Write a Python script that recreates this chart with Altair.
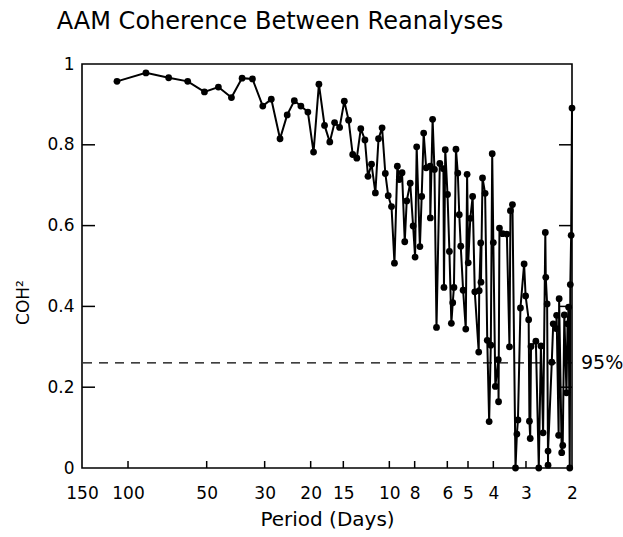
import altair as alt
import pandas as pd

# Period (days) and squared coherence
period = [110.2, 85.4, 69.9, 59.1, 51.0, 45.1, 40.2, 36.6, 33.4, 30.5,
          28.3, 26.2, 24.6, 23.1, 21.8, 20.5, 19.5, 18.6, 17.7, 16.9,
          16.2, 15.5, 14.87, 14.32, 13.81, 13.32, 12.86, 12.40, 12.07, 11.70,
          11.31, 11.0, 10.66, 10.36, 10.10, 9.81, 9.56, 9.32, 9.16, 8.94,
          8.73, 8.58, 8.32, 8.11, 7.97, 7.86, 7.64, 7.52, 7.39, 7.23,
          6.98, 6.97, 6.83, 6.72, 6.60, 6.41, 6.21, 6.18, 6.11, 5.99,
          5.89, 5.79, 5.72, 5.66, 5.56, 5.47, 5.40, 5.33, 5.22, 5.10,
          5.04, 4.99, 4.90, 4.80, 4.71, 4.55, 4.53, 4.47, 4.46, 4.40,
          4.30, 4.22, 4.15, 4.09, 4.04, 4.00, 3.93, 3.83, 3.82, 3.79,
          3.69, 3.55, 3.47, 3.44, 3.38, 3.29, 3.25, 3.22, 3.15, 3.05,
          3.01, 2.93, 2.91, 2.89, 2.87, 2.75, 2.68, 2.63, 2.58, 2.53,
          2.52, 2.49, 2.47, 2.47, 2.39, 2.36, 2.30, 2.29, 2.25, 2.24,
          2.19, 2.17, 2.14, 2.10, 2.08, 2.06, 2.04, 2.03, 2.015, 2.0]

coh = [0.957, 0.978, 0.966, 0.957, 0.931, 0.943, 0.917, 0.965, 0.963, 0.896,
       0.913, 0.815, 0.874, 0.909, 0.896, 0.881, 0.782, 0.950, 0.848, 0.807,
       0.855, 0.843, 0.908, 0.861, 0.776, 0.767, 0.840, 0.812, 0.722, 0.752,
       0.681, 0.815, 0.842, 0.729, 0.674, 0.647, 0.507, 0.747, 0.714, 0.731,
       0.560, 0.661, 0.705, 0.599, 0.522, 0.795, 0.548, 0.672, 0.829, 0.743,
       0.747, 0.619, 0.863, 0.739, 0.348, 0.754, 0.741, 0.447, 0.788, 0.677,
       0.536, 0.358, 0.409, 0.447, 0.789, 0.730, 0.627, 0.549, 0.440, 0.344,
       0.727, 0.508, 0.618, 0.672, 0.436, 0.287, 0.439, 0.557, 0.460, 0.718,
       0.680, 0.316, 0.115, 0.304, 0.778, 0.558, 0.202, 0.268, 0.164, 0.594,
       0.580, 0.579, 0.300, 0.637, 0.652, 0.000, 0.084, 0.119, 0.396, 0.505,
       0.426, 0.367, 0.116, 0.073, 0.301, 0.314, 0.000, 0.302, 0.087, 0.583,
       0.472, 0.406, 0.007, 0.042, 0.262, 0.357, 0.345, 0.378, 0.081, 0.419,
       0.038, 0.056, 0.379, 0.186, 0.357, 0.398, 0.000, 0.454, 0.576, 0.891]

x_tick_values = [150, 100, 50, 30, 20, 15, 10, 8, 6, 5, 4, 3, 2]
x_inner_ticks = [100, 50, 30, 20, 15, 10, 8, 6, 5, 4, 3]
y_tick_values = [0, 0.2, 0.4, 0.6, 0.8, 1]
y_inner_ticks = [0.2, 0.4, 0.6, 0.8]
sig95 = 0.26

W, H = 490, 404
FONT = "DejaVu Sans"

df = pd.DataFrame({"period": period, "coh": coh, "idx": list(range(len(period)))})
ytk = pd.DataFrame({"coh": y_inner_ticks})
xtk = pd.DataFrame({"period": x_inner_ticks})
one = pd.DataFrame({"label": ["95%"]})

xscale = alt.Scale(type="log", domain=[2, 150], reverse=True, nice=False)
yscale = alt.Scale(domain=[0, 1], nice=False)

xaxis = alt.Axis(values=x_tick_values, title="Period (Days)", labelOverlap=False,
                 labelFlush=False, labelExpr="format(datum.value, 'd')",
                 labelFontSize=17, titleFontSize=20, labelPadding=17, titlePadding=8,
                 ticks=False, tickSize=0, domain=False, grid=False,
                 labelFont=FONT, titleFont=FONT, titleFontWeight="normal",
                 labelColor="black", titleColor="black")
yaxis = alt.Axis(values=y_tick_values, title="COH²",
                 labelExpr="datum.value == 0 ? '0' : datum.value == 1 ? '1' : format(datum.value, '.1f')",
                 labelFontSize=17, titleFontSize=17, labelPadding=8,
                 titleX=-59, titleY=238, titleBaseline="middle",
                 ticks=False, tickSize=0, domain=False, grid=False,
                 labelFont=FONT, titleFont=FONT, titleFontWeight="normal",
                 labelColor="black", titleColor="black")

line = alt.Chart(df).mark_line(color="black", strokeWidth=2).encode(
    x=alt.X("period:Q", scale=xscale, axis=xaxis),
    y=alt.Y("coh:Q", scale=yscale, axis=yaxis),
    order="idx:Q",
)
pts = alt.Chart(df).mark_circle(color="black", size=46, opacity=1).encode(
    x=alt.X("period:Q", scale=xscale),
    y=alt.Y("coh:Q", scale=yscale),
)

sig_line = alt.Chart(one).mark_rule(color="black", strokeWidth=1.2, strokeDash=[9, 7]).encode(
    y=alt.datum(sig95)
)
sig_text = alt.Chart(one).mark_text(align="left", baseline="middle",
                                    dx=9, fontSize=19, font=FONT, color="black").encode(
    x=alt.datum(2), y=alt.datum(sig95), text="label:N"
)

left_ticks = alt.Chart(ytk).mark_rule(color="black", strokeWidth=1.5).encode(
    y=alt.Y("coh:Q", scale=yscale), x=alt.value(0), x2=alt.value(13))
right_ticks = alt.Chart(ytk).mark_rule(color="black", strokeWidth=1.5).encode(
    y=alt.Y("coh:Q", scale=yscale), x=alt.value(W - 13), x2=alt.value(W))
bottom_ticks = alt.Chart(xtk).mark_rule(color="black", strokeWidth=1.5).encode(
    x=alt.X("period:Q", scale=xscale), y=alt.value(H), y2=alt.value(H - 7))

chart = alt.layer(
    sig_line, line, pts, sig_text, left_ticks, right_ticks, bottom_ticks
).properties(
    width=W, height=H,
    title=alt.TitleParams("AAM Coherence Between Reanalyses", fontSize=24, font=FONT,
                          fontWeight="normal", color="black", anchor="middle",
                          frame="group", dx=-47, offset=21),
    padding={"left": 82, "top": 64, "right": 51, "bottom": 69},
    autosize=alt.AutoSizeParams(type="none"),
    background="white",
).configure_view(stroke="black", strokeWidth=1.6)

chart.save("out.html", embed_options={"renderer": "svg", "actions": False})
